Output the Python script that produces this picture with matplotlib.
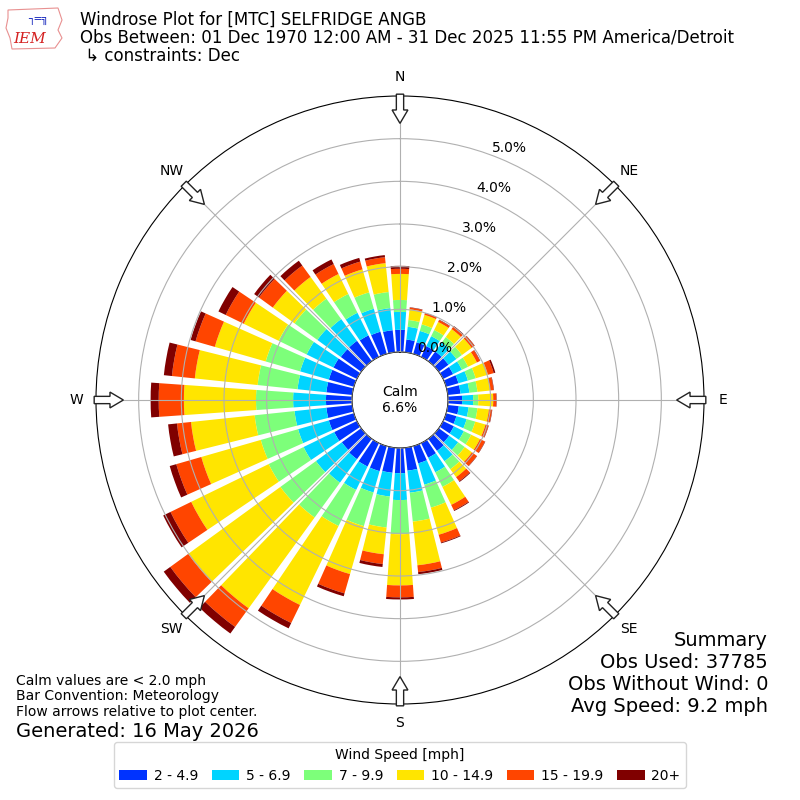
import numpy as np
import matplotlib
matplotlib.use('Agg')
import matplotlib.pyplot as plt
from matplotlib.patches import FancyArrow, Polygon, Patch

# Directions (deg, meteorological) and frequency (%) per speed bin
directions = np.arange(0, 360, 10)
bin_labels = ['2 - 4.9', '5 - 6.9', '7 - 9.9', '10 - 14.9', '15 - 19.9', '20+']
bin_colors = ['#0033ff', '#00d4ff', '#7dff7a', '#ffe500', '#ff4500', '#800000']

spd_2_5 = [0.52, 0.30, 0.28, 0.28, 0.28, 0.28, 0.26, 0.30, 0.30, 0.33, 0.26, 0.25,
           0.28, 0.30, 0.35, 0.38, 0.42, 0.54, 0.59, 0.59, 0.61, 0.61, 0.59, 0.56,
           0.59, 0.61, 0.61, 0.61, 0.61, 0.61, 0.61, 0.59, 0.59, 0.56, 0.54, 0.52]
spd_5_7 = [0.42, 0.30, 0.28, 0.26, 0.26, 0.23, 0.23, 0.23, 0.21, 0.26, 0.23, 0.25,
           0.26, 0.26, 0.30, 0.38, 0.52, 0.52, 0.63, 0.56, 0.52, 0.61, 0.68, 0.75,
           0.80, 0.75, 0.75, 0.77, 0.68, 0.70, 0.70, 0.68, 0.63, 0.59, 0.56, 0.52]
spd_7_10 = [0.28, 0.16, 0.16, 0.16, 0.16, 0.16, 0.16, 0.19, 0.19, 0.12, 0.21, 0.21,
            0.19, 0.19, 0.23, 0.38, 0.56, 0.68, 0.80, 0.73, 0.82, 0.94, 1.01, 1.03,
            0.91, 0.91, 0.94, 0.87, 0.94, 0.84, 0.73, 0.66, 0.59, 0.49, 0.40, 0.38]
spd_10_15 = [0.61, 0.25, 0.23, 0.21, 0.23, 0.28, 0.23, 0.30, 0.30, 0.35, 0.27, 0.25,
             0.23, 0.21, 0.23, 0.47, 0.66, 1.03, 1.20, 0.63, 1.17, 2.06, 2.63, 2.67,
             2.02, 1.45, 1.50, 1.69, 1.48, 1.24, 0.91, 0.63, 0.63, 0.52, 0.56, 0.68]
spd_15_20 = [0.12, 0.04, 0.04, 0.05, 0.07, 0.08, 0.08, 0.14, 0.08, 0.07, 0.07, 0.07,
             0.13, 0.14, 0.12, 0.14, 0.19, 0.16, 0.28, 0.23, 0.47, 0.47, 0.54, 0.52,
             0.54, 0.61, 0.33, 0.59, 0.54, 0.47, 0.47, 0.40, 0.33, 0.26, 0.19, 0.14]
spd_20p = [0.07, 0.01, 0.01, 0.01, 0.02, 0.01, 0.01, 0.04, 0.01, 0.01, 0.01, 0.01,
           0.01, 0.01, 0.02, 0.02, 0.02, 0.05, 0.05, 0.07, 0.07, 0.14, 0.19, 0.19,
           0.19, 0.16, 0.21, 0.19, 0.19, 0.12, 0.19, 0.14, 0.14, 0.12, 0.09, 0.05]
bins = [spd_2_5, spd_5_7, spd_7_10, spd_10_15, spd_15_20, spd_20p]

calm_pct = 6.6
rticks = [0, 1, 2, 3, 4, 5]
compass = ['N', 'NE', 'E', 'SE', 'S', 'SW', 'W', 'NW']

fig = plt.figure(figsize=(8, 8), dpi=100)
ax = fig.add_axes([0.12, 0.12, 0.76, 0.76], projection='polar')
ax.set_theta_zero_location('N')
ax.set_theta_direction(-1)

theta = np.deg2rad(directions)
width = np.deg2rad(8)
bottom = np.zeros(len(directions))
for vals, col in zip(bins, bin_colors):
    vals = np.array(vals)
    ax.bar(theta, vals, width=width, bottom=bottom, color=col, linewidth=0)
    bottom += vals

ax.set_ylim(0, 6)
ax.set_rorigin(-1.125)
ax.set_axisbelow(False)
ax.grid(True, color='#b0b0b0', lw=0.8)
ax.set_yticks(rticks)
ax.set_yticklabels(['%.1f%%' % t for t in rticks], fontsize=10)
ax.set_rlabel_position(20.5)
ax.set_xticks(np.deg2rad(np.arange(0, 360, 45)))
ax.set_xticklabels(compass, fontsize=10)
ax.tick_params(axis='x', pad=3.5)

ax.text(0.5, 0.5, 'Calm\n%.1f%%' % calm_pct, transform=ax.transAxes,
        ha='center', va='center', fontsize=10)

# flow arrows at the compass points
for ang in np.arange(0, 360, 45):
    ux, uy = np.sin(np.deg2rad(ang)), np.cos(np.deg2rad(ang))
    r0, L = 0.503, 0.048
    arr = FancyArrow(0.5 + r0 * ux, 0.5 + r0 * uy, -L * ux, -L * uy,
                     width=0.012, head_width=0.026, head_length=0.022,
                     length_includes_head=True, transform=ax.transAxes,
                     facecolor='white', edgecolor='#222222', lw=1,
                     clip_on=False, zorder=10)
    ax.add_patch(arr)

# header
fig.text(0.10, 0.986,
         'Windrose Plot for [MTC] SELFRIDGE ANGB\n'
         'Obs Between: 01 Dec 1970 12:00 AM - 31 Dec 2025 11:55 PM America/Detroit\n'
         ' \u21b3 constraints: Dec',
         ha='left', va='top', fontsize=12, linespacing=0.97)

# rough logo
logo_px = np.array([(8, 10), (58, 8), (62, 20), (58, 30), (62, 38), (55, 48), (12, 49),
                    (10, 38), (6, 28), (8, 18)])
logo = Polygon(np.column_stack([logo_px[:, 0] / 800, 1 - logo_px[:, 1] / 800]),
               closed=True, facecolor='none', edgecolor='#e89090', lw=0.8,
               transform=fig.transFigure)
fig.add_artist(logo)
fig.text(30 / 800, 1 - 39 / 800, 'IEM', color='#d42020', fontsize=11,
         family='DejaVu Serif', style='italic', ha='center', va='center')
fig.text(38 / 800, 1 - 20 / 800, '\u2510\u2550\u2557', color='#2030c0', fontsize=8,
         ha='center', va='center')

# summary
fig.text(0.96, 0.211, 'Summary\nObs Used: 37785\nObs Without Wind: 0\nAvg Speed: 9.2 mph',
         ha='right', va='top', fontsize=14, linespacing=1.2)

fig.text(0.02, 0.158, 'Calm values are < 2.0 mph\nBar Convention: Meteorology\n'
         'Flow arrows relative to plot center.', ha='left', va='top', fontsize=10,
         linespacing=1.15)
fig.text(0.02, 0.074, 'Generated: 16 May 2026', ha='left', va='bottom', fontsize=14)

handles = [Patch(facecolor=c, label=l) for c, l in zip(bin_colors, bin_labels)]
fig.legend(handles=handles, loc='lower center', bbox_to_anchor=(0.5, 0.006), ncol=6,
           title='Wind Speed [mph]', fontsize=10, title_fontsize=10,
           handlelength=2.0, handleheight=0.7, handletextpad=0.5, columnspacing=0.95)

fig.savefig('out.png', dpi=100)
